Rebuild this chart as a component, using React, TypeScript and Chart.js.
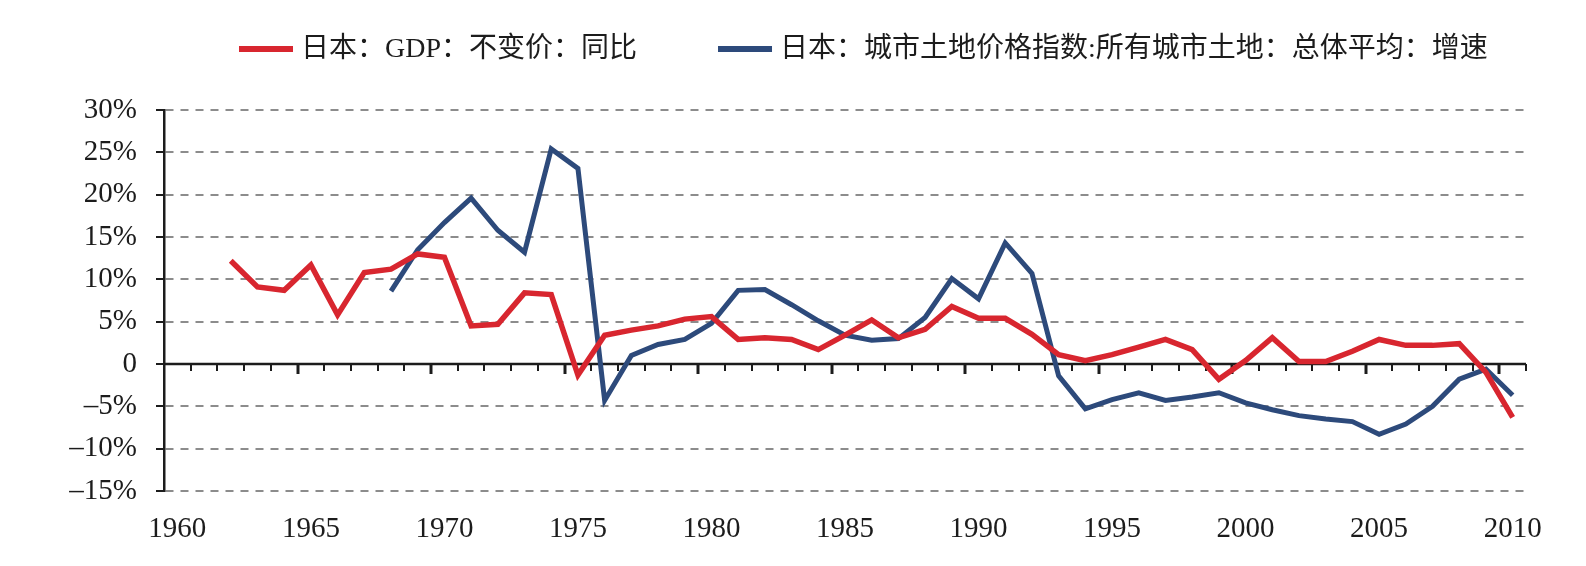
import React, { useEffect, useRef } from "react";
import { Chart, registerables } from "chart.js";

Chart.register(...registerables);

// Years on the category axis
const years: number[] = [
  1960, 1961, 1962, 1963, 1964, 1965, 1966, 1967, 1968, 1969,
  1970, 1971, 1972, 1973, 1974, 1975, 1976, 1977, 1978, 1979,
  1980, 1981, 1982, 1983, 1984, 1985, 1986, 1987, 1988, 1989,
  1990, 1991, 1992, 1993, 1994, 1995, 1996, 1997, 1998, 1999,
  2000, 2001, 2002, 2003, 2004, 2005, 2006, 2007, 2008, 2009, 2010,
];

// 日本：GDP：不变价：同比 (%)
const gdpGrowth: (number | null)[] = [
  null, null, 12.2, 9.1, 8.7, 11.7, 5.8, 10.8, 11.2, 13.0,
  12.6, 4.5, 4.7, 8.4, 8.2, -1.3, 3.4, 4.0, 4.5, 5.3,
  5.6, 2.9, 3.1, 2.9, 1.7, 3.4, 5.2, 3.1, 4.1, 6.8,
  5.4, 5.4, 3.5, 1.1, 0.4, 1.1, 2.0, 2.9, 1.7, -1.8,
  0.4, 3.1, 0.3, 0.3, 1.5, 2.9, 2.2, 2.2, 2.4, -1.0, -6.3,
];

// 日本：城市土地价格指数:所有城市土地：总体平均：增速 (%)
const landPriceGrowth: (number | null)[] = [
  null, null, null, null, null, null, null, null, 8.6, 13.5,
  16.7, 19.6, 15.8, 13.2, 25.4, 23.1, -4.3, 1.0, 2.3, 2.9,
  4.8, 8.7, 8.8, 7.0, 5.1, 3.4, 2.8, 3.0, 5.5, 10.1,
  7.7, 14.3, 10.7, -1.4, -5.3, -4.2, -3.4, -4.3, -3.9, -3.4,
  -4.6, -5.4, -6.1, -6.5, -6.8, -8.3, -7.1, -5.0, -1.8, -0.6, -3.7,
];

const seriesLabels: string[] = [
  "日本：GDP：不变价：同比",
  "日本：城市土地价格指数:所有城市土地：总体平均：增速",
];

const yMin = -15;
const yMax = 30;
const yStep = 5;

const RED = "#d8262f";
const BLUE = "#2d4a7b";
const INK = "#1c1c1c";
const SERIF = '"Liberation Serif", "Times New Roman", serif';
const LEGEND_FONT = '28px "Liberation Serif", "Noto Sans CJK SC", serif';

// Horizontal axis drawn through zero, with a tick at every category boundary
const zeroAxis = {
  id: "zeroAxis",
  beforeDatasetsDraw(chart: any) {
    const { ctx, chartArea, scales } = chart;
    const x = scales.x;
    const y0 = scales.y.getPixelForValue(0);
    ctx.save();
    ctx.strokeStyle = INK;
    ctx.lineWidth = 2.5;
    ctx.beginPath();
    ctx.moveTo(chartArea.left, y0);
    ctx.lineTo(chartArea.right, y0);
    ctx.stroke();
    const n = years.length;
    for (let i = 1; i <= n; i++) {
      const px = Math.round(x.getPixelForValue(i - 0.5));
      const major = i < n && years[i] % 5 === 0;
      ctx.lineWidth = major ? 3 : 2;
      ctx.beginPath();
      ctx.moveTo(px, y0);
      ctx.lineTo(px, y0 + (major ? 10 : 7));
      ctx.stroke();
    }
    ctx.restore();
  },
};

// Legend row: a short coloured line followed by the series name
const lineLegend = {
  id: "lineLegend",
  afterDraw(chart: any, _args: any, opts: any) {
    const { ctx } = chart;
    ctx.save();
    ctx.font = opts.font;
    ctx.textBaseline = "middle";
    ctx.textAlign = "left";
    let x = opts.left;
    chart.data.datasets.forEach((ds: any) => {
      ctx.strokeStyle = ds.borderColor;
      ctx.lineWidth = opts.lineWidth;
      ctx.beginPath();
      ctx.moveTo(x, opts.y);
      ctx.lineTo(x + opts.lineLength, opts.y);
      ctx.stroke();
      x += opts.lineLength + opts.textGap;
      ctx.fillStyle = opts.color;
      ctx.fillText(ds.label, x, opts.y + 1);
      x += ctx.measureText(ds.label).width + opts.itemGap;
    });
    ctx.restore();
  },
};

export default function App() {
  const canvasRef = useRef<HTMLCanvasElement | null>(null);

  useEffect(() => {
    if (!canvasRef.current) return;
    const chart = new Chart(canvasRef.current, {
      type: "line",
      data: {
        labels: years.map(String),
        datasets: [
          {
            label: seriesLabels[0],
            data: gdpGrowth,
            borderColor: RED,
            backgroundColor: RED,
            borderWidth: 5.5,
            pointRadius: 0,
            tension: 0,
            spanGaps: false,
          },
          {
            label: seriesLabels[1],
            data: landPriceGrowth,
            borderColor: BLUE,
            backgroundColor: BLUE,
            borderWidth: 5,
            pointRadius: 0,
            tension: 0,
            spanGaps: false,
          },
        ],
      },
      plugins: [zeroAxis, lineLegend],
      options: {
        animation: false,
        responsive: true,
        maintainAspectRatio: false,
        layout: { padding: { left: 0, right: 60, top: 110, bottom: 0 } },
        plugins: {
          legend: { display: false },
          tooltip: { enabled: false },
          lineLegend: {
            font: LEGEND_FONT,
            color: INK,
            left: 239,
            y: 49,
            lineLength: 54,
            lineWidth: 6,
            textGap: 8,
            itemGap: 81,
          },
        } as any,
        scales: {
          x: {
            type: "category",
            offset: true,
            grid: { display: false, drawTicks: false },
            border: { display: false },
            ticks: {
              autoSkip: false,
              maxRotation: 0,
              minRotation: 0,
              padding: 21,
              color: INK,
              font: { family: SERIF, size: 29 },
              callback: (_v: any, i: number) =>
                years[i] % 5 === 0 ? String(years[i]) : "",
            },
            afterFit: (scale: any) => {
              scale.height = 75;
            },
          },
          y: {
            min: yMin,
            max: yMax,
            ticks: {
              stepSize: yStep,
              padding: 19,
              color: INK,
              font: { family: SERIF, size: 29 },
              callback: (v: any) => {
                const n = Number(v);
                if (n === 0) return "0";
                return n < 0 ? "–" + Math.abs(n) + "%" : n + "%";
              },
            },
            grid: {
              color: (c: any) =>
                c.tick && c.tick.value === 0 ? "rgba(0,0,0,0)" : "#8c8c8c",
              lineWidth: 2,
              tickLength: 8,
              tickColor: INK,
              tickWidth: 2,
            },
            border: { display: true, color: INK, width: 2.5, dash: [8, 7] },
            afterFit: (scale: any) => {
              scale.width = 164;
            },
          },
        },
      },
    });
    return () => chart.destroy();
  }, []);

  return (
    <div
      style={{
        position: "fixed",
        left: 0,
        top: 0,
        width: 1586,
        height: 566,
        background: "#ffffff",
      }}
    >
      <canvas ref={canvasRef} />
    </div>
  );
}
